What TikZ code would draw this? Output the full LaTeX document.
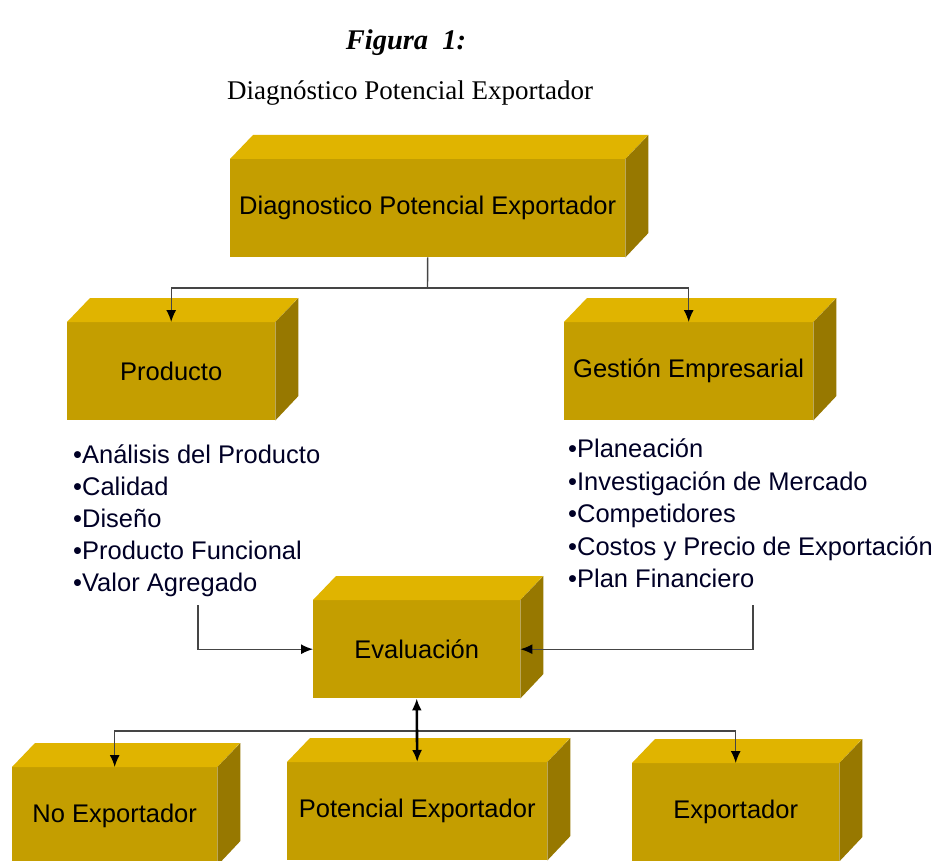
\documentclass[tikz,border=0pt]{standalone}
\usepackage{fontspec}
\setmainfont{Liberation Serif}
\newfontfamily\arial{Liberation Sans}
\usetikzlibrary{arrows.meta}
\definecolor{frontc}{HTML}{C49E00}
\definecolor{topc}{HTML}{E0B400}
\definecolor{sidec}{HTML}{977800}
\definecolor{linec}{HTML}{454545}
\tikzset{
  frontbox/.style={fill=frontc, inner sep=0pt, minimum height=98pt, anchor=north west,
    font=\arial\fontsize{25.5}{30}\selectfont, text=black},
  topface/.style={fill=topc},
  sideface/.style={fill=sidec},
  tipa/.tip={Latex[length=12pt,width=10pt,fill=black,color=black]},
  conn/.style={draw=linec, line width=1.4pt, -tipa},
  plainline/.style={draw=linec, line width=1.4pt},
  dblconn/.style={draw=black, line width=2.6pt, {Latex[length=12pt,width=10pt]}-{Latex[length=12pt,width=10pt]}},
  item/.style={font=\arial\fontsize{25.5}{30}\selectfont, anchor=base west, inner sep=0pt, text=black!85!blue},
}
\newcommand\cubo[5]{%
  \node[frontbox, minimum width=#4pt] (#1) at (#2,#3) {#5};
  \fill[topface] (#1.north west) -- ++(23,-24) -- ++(#4,0) -- (#1.north east) -- cycle;
  \fill[sideface] (#1.north east) -- ++(23,-24) -- ++(0,98) -- (#1.south east) -- cycle;
}
\begin{document}
\begin{tikzpicture}[x=1pt,y=-1pt]
\useasboundingbox (0,0) rectangle (939,861);
\clip (0,0) rectangle (939,861);
\fill[white] (0,0) rectangle (939,861);

% titles
\node[font=\bfseries\itshape\fontsize{28.5}{30}\selectfont, anchor=base, inner sep=0pt] (fig) at (406,50) {Figura\ \ 1:};
\node[font=\fontsize{27}{30}\selectfont, anchor=base, inner sep=0pt] (sub) at (410,100) {Diagnóstico Potencial Exportador};

% boxes
\cubo{top}{230}{159}{395}{Diagnostico Potencial Exportador}
\cubo{prod}{67}{322}{208}{Producto}
\cubo{gest}{564}{322}{249}{Gestión Empresarial}
\cubo{eval}{313}{600}{207}{Evaluación}
\cubo{noexp}{12}{767}{205}{No Exportador}
\cubo{pot}{287}{762}{260}{Potencial Exportador}
\cubo{exp}{632}{763}{207}{Exportador}

% lists
\node[item] (l1) at (73,463) {•Análisis del Producto};
\node[item] (l2) at (73,495) {•Calidad};
\node[item] (l3) at (73,527) {•Diseño};
\node[item] (l4) at (73,559) {•Producto Funcional};
\node[item] (l5) at (73,591) {•Valor Agregado};

\node[item] (r1) at (568,457) {•Planeación};
\node[item] (r2) at (568,490) {•Investigación de Mercado};
\node[item] (r3) at (568,522) {•Competidores};
\node[item] (r4) at (568,555) {•Costos y Precio de Exportación};
\node[item] (r5) at (568,587) {•Plan Financiero};

% connectors
\coordinate (j1) at (427.5,288);
\coordinate (j2) at (416.5,731);
\coordinate (la) at (198,605);
\coordinate (ra) at (753,605);
\draw[plainline] (top.south) -- (j1);
\draw[conn] (j1) -| (prod.north);
\draw[conn] (j1) -| (gest.north);
\draw[conn] (la) |- (eval.west);
\draw[conn] (ra) |- (eval.east);
\draw[conn] (j2) -| (noexp.north);
\draw[conn] (j2) -| (exp.north);
\draw[dblconn] (eval.south) -- (pot.north);
\end{tikzpicture}
\end{document}
